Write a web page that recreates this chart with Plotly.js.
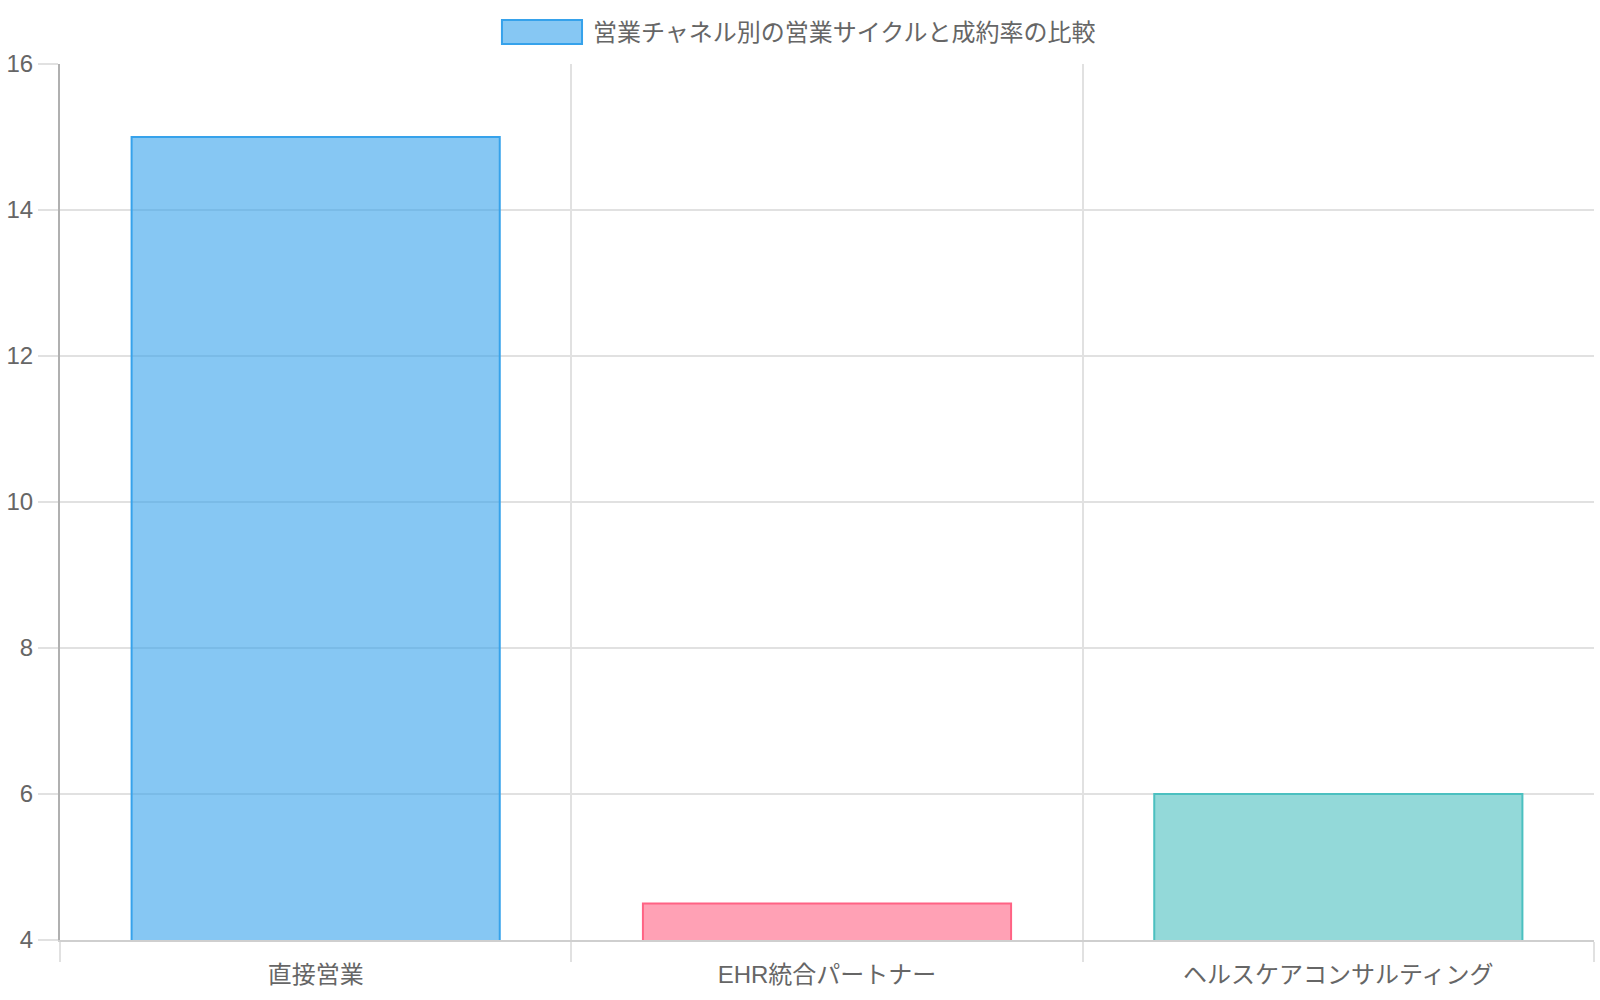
<!DOCTYPE html>
<html>
<head>
<meta charset="utf-8">
<script src="https://cdn.plot.ly/plotly-3.0.1.min.js"></script>
<style>
  body { margin: 0; background: #fff; }
  #chart { width: 1600px; height: 1000px; }
</style>
</head>
<body>
<div id="chart"></div>
<script>
// channels and sales cycle values
var channels = ['直接営業', 'EHR統合パートナー', 'ヘルスケアコンサルティング'];
var cycleValues = [15, 4.5, 6];
var seriesLabel = '営業チャネル別の営業サイクルと成約率の比較';

var fillColors = ['rgba(54, 162, 235, 0.6)', 'rgba(255, 99, 132, 0.6)', 'rgba(75, 192, 192, 0.6)'];
var lineColors = ['rgb(54, 162, 235)', 'rgb(255, 99, 132)', 'rgb(75, 192, 192)'];

var fontFamily = 'Helvetica Neue, Helvetica, Arial, "Noto Sans CJK JP", sans-serif';

var data = [
  {
    x: channels,
    y: cycleValues,
    type: 'bar',
    base: 0,
    marker: {
      color: fillColors,
      line: { color: lineColors, width: 2 }
    }
  }
];

var layout = {
  width: 1600,
  height: 1000,
  showlegend: false,
  paper_bgcolor: '#fff',
  plot_bgcolor: '#fff',
  margin: { l: 60, r: 6, t: 64, b: 60, pad: 0 },
  bargap: 0.28,
  font: { family: fontFamily, size: 24, color: '#666' },
  xaxis: {
    type: 'category',
    range: [-0.5, 2.5],
    tickson: 'boundaries',          // grid lines between categories, like chart.js
    showgrid: true,
    gridcolor: '#e1e1e1',
    gridwidth: 2,
    ticks: 'outside',
    ticklen: 20,
    tickwidth: 2,
    tickcolor: '#e1e1e1',
    ticklabelstandoff: 12,
    showline: true,
    linecolor: '#cfcfcf',
    linewidth: 2,
    zeroline: false,
    tickfont: { size: 24, color: '#666' }
  },
  yaxis: {
    range: [4, 16],
    dtick: 2,
    showgrid: true,
    gridcolor: '#e1e1e1',
    gridwidth: 2,
    ticks: 'outside',
    ticklen: 20,
    tickwidth: 2,
    tickcolor: '#e1e1e1',
    showline: true,
    linecolor: '#b0b0b0',
    linewidth: 2,
    zeroline: false,
    tickfont: { size: 24, color: '#666' }
  },
  // legend drawn by hand: wide box + label, chart.js style
  shapes: [
    {
      type: 'rect', xref: 'paper', yref: 'paper',
      x0: 0.2881, x1: 0.3403, y0: 1.0228, y1: 1.0502,
      fillcolor: fillColors[0],
      line: { color: lineColors[0], width: 2 }
    }
  ],
  annotations: [
    {
      xref: 'paper', yref: 'paper',
      x: 0.3462, y: 1.0365,
      xanchor: 'left', yanchor: 'middle',
      showarrow: false,
      text: seriesLabel,
      font: { size: 24, color: '#666', family: fontFamily }
    }
  ]
};

var options = { staticPlot: true };

Plotly.newPlot('chart', data, layout, options);
</script>
</body>
</html>
